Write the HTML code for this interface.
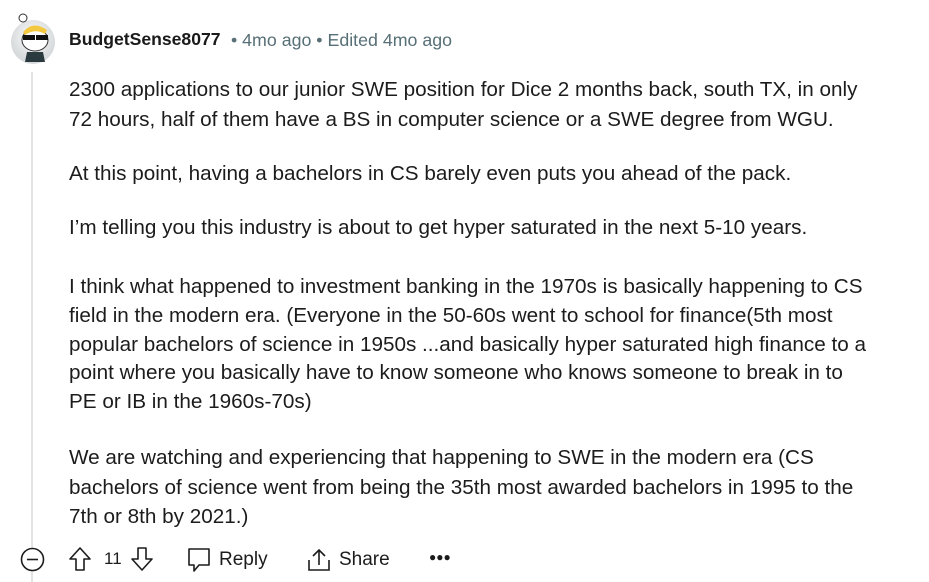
<!DOCTYPE html>
<html><head><meta charset="utf-8"><style>
body{margin:0;width:929px;height:582px;background:#fff;position:relative;overflow:hidden;font-family:"Segoe UI","Liberation Sans",sans-serif;color:#1a1a1b}
.abs{position:absolute}
.p{position:absolute;left:69px;font-size:20.7px;line-height:29px;white-space:nowrap;color:#1c1c1c}
.act{position:absolute;top:547px;font-size:19px;color:#1c1c1c;display:flex;align-items:center;gap:8px}
</style></head><body>
<div class="abs" style="left:31px;top:72px;width:2px;height:510px;background:#e3e3e3"></div>
<svg class="abs" style="left:9px;top:10px" width="48" height="54">
<defs><radialGradient id="g" cx="50%" cy="40%"><stop offset="0" stop-color="#fff"/><stop offset="1" stop-color="#d8dbdd"/></radialGradient></defs>
<circle cx="24" cy="32" r="22" fill="url(#g)"/>
<ellipse cx="26" cy="30" rx="13" ry="11" fill="#fff" stroke="#333" stroke-width="1"/>
<path d="M14 22 Q24 10 38 20 L36 24 Q26 18 16 25Z" fill="#f5c842"/>
<rect x="14" y="25" width="12" height="5" fill="#111"/><rect x="27" y="25" width="12" height="5" fill="#111"/>
<path d="M18 42 L34 42 L36 52 L16 52Z" fill="#2b3a3f"/>
<circle cx="14" cy="8" r="4" fill="#fff" stroke="#333"/>
</svg>
<div class="abs" style="left:69px;top:29px;font-size:17.6px;font-weight:bold;color:#1a1a1b">BudgetSense8077</div>
<div class="abs" style="left:231px;top:30px;font-size:17.8px;color:#576f76">• 4mo ago • Edited 4mo ago</div>
<div class="p" style="top:75px;line-height:30px">2300 applications to our junior SWE position for Dice 2 months back, south TX, in only<br>72 hours, half of them have a BS in computer science or a SWE degree from WGU.</div>
<div class="p" style="top:159px">At this point, having a bachelors in CS barely even puts you ahead of the pack.</div>
<div class="p" style="top:213px">I’m telling you this industry is about to get hyper saturated in the next 5-10 years.</div>
<div class="p" style="top:273px;line-height:28.8px">I think what happened to investment banking in the 1970s is basically happening to CS<br>field in the modern era. (Everyone in the 50-60s went to school for finance(5th most<br>popular bachelors of science in 1950s ...and basically hyper saturated high finance to a<br>point where you basically have to know someone who knows someone to break in to<br>PE or IB in the 1960s-70s)</div>
<div class="p" style="top:443px;line-height:29.5px">We are watching and experiencing that happening to SWE in the modern era (CS<br>bachelors of science went from being the 35th most awarded bachelors in 1995 to the<br>7th or 8th by 2021.)</div>
<svg class="abs" style="left:20px;top:547px" width="25" height="25"><circle cx="12.5" cy="12.5" r="11" fill="#fff" stroke="#1c1c1c" stroke-width="1.6"/><line x1="7" y1="12.5" x2="18" y2="12.5" stroke="#1c1c1c" stroke-width="1.6"/></svg>
<svg class="abs" style="left:68px;top:546px" width="24" height="26"><path d="M12 2 L22 13 L16 13 L16 24 L8 24 L8 13 L2 13Z" fill="none" stroke="#1c1c1c" stroke-width="1.6" stroke-linejoin="round"/></svg>
<div class="abs" style="left:104px;top:549px;font-size:17px;color:#1c1c1c">11</div>
<svg class="abs" style="left:130px;top:546px" width="24" height="26"><path d="M12 24 L22 13 L16 13 L16 2 L8 2 L8 13 L2 13Z" fill="none" stroke="#1c1c1c" stroke-width="1.6" stroke-linejoin="round"/></svg>
<div class="act" style="left:187px"><svg width="24" height="26"><path d="M2 2 H22 V18 H12 L7 24 V18 H2Z" fill="none" stroke="#1c1c1c" stroke-width="1.6" stroke-linejoin="round"/></svg><span>Reply</span></div>
<div class="act" style="left:307px"><svg width="24" height="26"><path d="M2 13 V23 H22 V13 M12 18 V3 M6 9 L12 3 L18 9" fill="none" stroke="#1c1c1c" stroke-width="1.6"/></svg><span>Share</span></div>
<div class="act" style="left:429px;top:550px;font-size:12px;letter-spacing:0px">●●●</div>
</body></html>
